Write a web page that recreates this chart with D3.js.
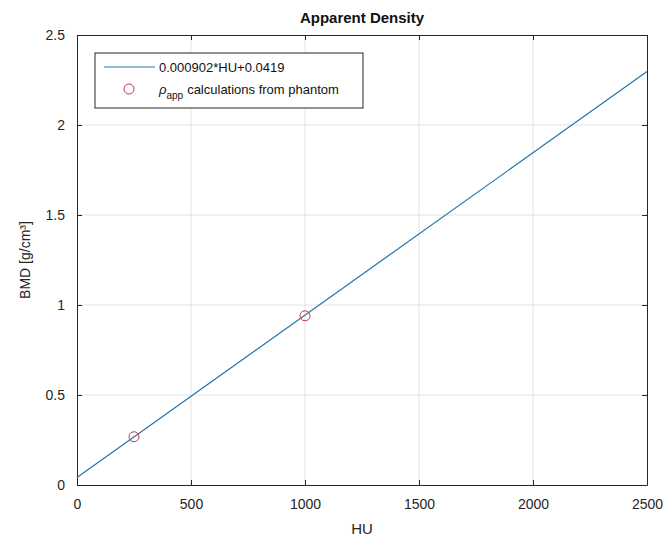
<!DOCTYPE html>
<meta charset="utf-8"/>
<style>
  body { margin: 0; background: #fff; }
  text { font-family: "Liberation Sans", Arial, sans-serif; }
</style>
<svg width="669" height="544"></svg>
<script src="https://d3js.org/d3.v7.min.js"></script>
<script>

// fit: BMD = slope*HU + intercept
var slope = 0.000902,
    intercept = 0.0419;
var fitHU = [0, 2500];
var phantomHU = [250, 1000];
var phantomBMD = [0.268, 0.94];
var xTicks = [0, 500, 1000, 1500, 2000, 2500];
var yTicks = [0, 0.5, 1, 1.5, 2, 2.5];

var svg = d3.select("svg"),
    margin = {top: 35, right: 22, bottom: 59, left: 77},
    width = +svg.attr("width") - margin.left - margin.right,
    height = +svg.attr("height") - margin.top - margin.bottom,
    g = svg.append("g").attr("transform", "translate(" + margin.left + "," + margin.top + ")");

var x = d3.scaleLinear().domain([0, 2500]).range([0, width]);
var y = d3.scaleLinear().domain([0, 2.5]).range([height, 0]);

var axisColor = "#262626";

// grid
g.append("g").selectAll("line").data(xTicks.slice(1, -1)).enter().append("line")
    .attr("x1", function(d) { return x(d); }).attr("x2", function(d) { return x(d); })
    .attr("y1", 0).attr("y2", height)
    .attr("stroke", "#e3e3e3");
g.append("g").selectAll("line").data(yTicks.slice(1, -1)).enter().append("line")
    .attr("y1", function(d) { return y(d); }).attr("y2", function(d) { return y(d); })
    .attr("x1", 0).attr("x2", width)
    .attr("stroke", "#e3e3e3");

// axes
g.append("g")
    .attr("transform", "translate(0," + height + ")")
    .call(d3.axisBottom(x).tickValues(xTicks).tickFormat(d3.format("d")).tickSizeInner(-5).tickSizeOuter(0).tickPadding(14));
g.append("g")
    .call(d3.axisLeft(y).tickValues(yTicks).tickFormat(d3.format("")).tickSizeInner(-5).tickSizeOuter(0).tickPadding(12));
g.append("g")
    .call(d3.axisTop(x).tickValues(xTicks).tickFormat("").tickSizeInner(-5).tickSizeOuter(0));
g.append("g")
    .attr("transform", "translate(" + width + ",0)")
    .call(d3.axisRight(y).tickValues(yTicks).tickFormat("").tickSizeInner(-5).tickSizeOuter(0));

g.selectAll(".domain, .tick line").attr("stroke", axisColor);
g.selectAll(".tick text")
    .attr("fill", axisColor)
    .style("font-size", "14px")
    .style("font-family", "Liberation Sans, Arial, sans-serif");

// fit line
g.append("path")
    .datum(fitHU)
    .attr("fill", "none")
    .attr("stroke", "#1f77a8")
    .attr("stroke-width", 1.2)
    .attr("d", d3.line()
      .x(function(d) { return x(d); })
      .y(function(d) { return y(slope * d + intercept); }));

// phantom points
g.selectAll(".pt").data(phantomHU).enter().append("circle")
    .attr("cx", function(d) { return x(d); })
    .attr("cy", function(d, i) { return y(phantomBMD[i]); })
    .attr("r", 5)
    .attr("fill", "none")
    .attr("stroke", "#c8384a")
    .attr("stroke-width", 1);

// labels
svg.append("text")
    .attr("x", margin.left + width / 2).attr("y", 23)
    .attr("text-anchor", "middle")
    .attr("fill", "#111")
    .style("font-size", "15px").style("font-weight", "bold")
    .text("Apparent Density");

svg.append("text")
    .attr("x", margin.left + width / 2).attr("y", 534)
    .attr("text-anchor", "middle")
    .attr("fill", axisColor)
    .style("font-size", "15px")
    .text("HU");

svg.append("text")
    .attr("transform", "translate(30," + (margin.top + height / 2) + ") rotate(-90)")
    .attr("text-anchor", "middle")
    .attr("fill", axisColor)
    .style("font-size", "14px")
    .text("BMD [g/cm³]");

// legend
var lg = svg.append("g").attr("transform", "translate(95,53)");
lg.append("rect")
    .attr("width", 268).attr("height", 55)
    .attr("fill", "#fff")
    .attr("stroke", axisColor);
lg.append("line")
    .attr("x1", 9).attr("x2", 60).attr("y1", 14).attr("y2", 14)
    .attr("stroke", "#1f77a8").attr("stroke-width", 1.2);
lg.append("text")
    .attr("x", 64).attr("y", 19)
    .attr("fill", "#111").style("font-size", "13px")
    .text("0.000902*HU+0.0419");
lg.append("circle")
    .attr("cx", 34).attr("cy", 36).attr("r", 5)
    .attr("fill", "none").attr("stroke", "#c8384a");
var t2 = lg.append("text")
    .attr("x", 64).attr("y", 41)
    .attr("fill", "#111").style("font-size", "13px");
t2.append("tspan").style("font-style", "italic").text("ρ");
t2.append("tspan").attr("dy", 5).style("font-size", "10px").text("app");
t2.append("tspan").attr("dy", -5).attr("dx", 4).text("calculations from phantom");

</script>
